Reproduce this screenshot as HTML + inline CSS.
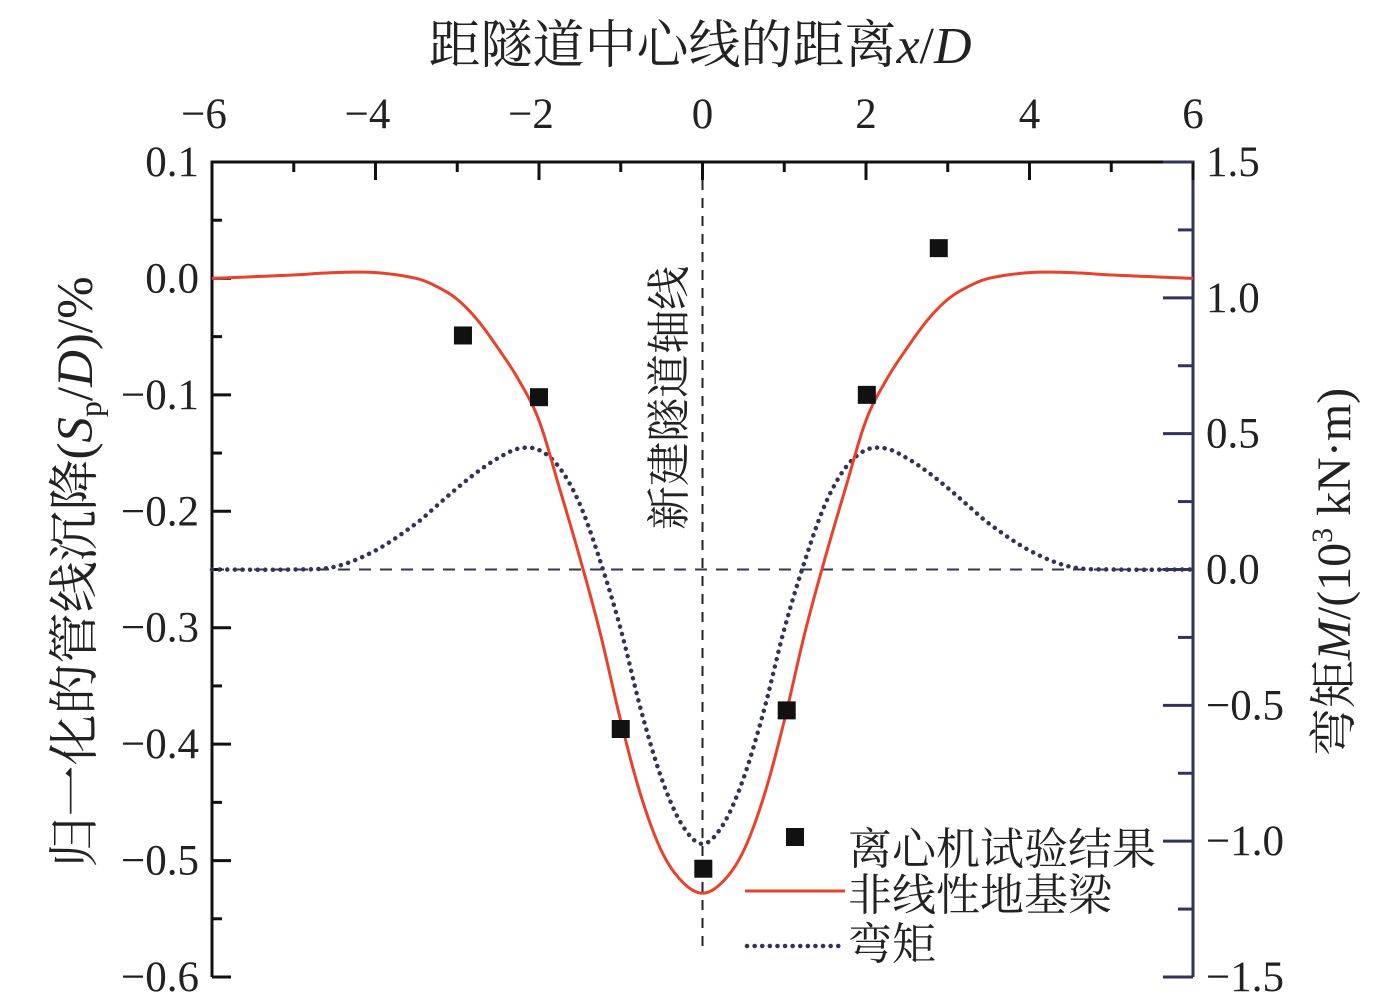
<!DOCTYPE html>
<html><head><meta charset="utf-8"><style>
html,body{margin:0;padding:0;background:#fff;}
svg{display:block;font-family:"Liberation Serif","Noto Serif CJK SC",serif;}
</style></head><body>
<svg id="chart" width="1374" height="1006" viewBox="0 0 1374 1006" xmlns="http://www.w3.org/2000/svg">
<text x="700" y="63" font-size="52" text-anchor="middle" fill="#222">距隧道中心线的距离<tspan font-style="italic">x</tspan>/<tspan font-style="italic">D</tspan></text>
<text transform="translate(92,572) rotate(-90)" font-size="51" text-anchor="middle" fill="#222">归一化的管线沉降(<tspan font-style="italic">S</tspan><tspan font-size="32" dy="9">p</tspan><tspan dy="-9">/</tspan><tspan font-style="italic">D</tspan>)/%</text>
<text transform="translate(1350,572) rotate(-90)" font-size="48" text-anchor="middle" fill="#222">弯矩<tspan font-style="italic">M</tspan>/(10<tspan font-size="30" dy="-18">3</tspan><tspan dy="18"> kN·m)</tspan></text>
<text transform="translate(684,398) rotate(-90)" font-size="44" text-anchor="middle" fill="#222">新建隧道轴线</text>
<g id="axes"></g>
<g id="marks"></g>
<g>
 <rect x="786" y="828" width="18" height="18" fill="#111"/>
 <text x="848" y="864" font-size="44" fill="#222">离心机试验结果</text>
 <line x1="745" y1="891" x2="845" y2="891" stroke="#e8412c" stroke-width="3"/>
 <text x="848" y="910" font-size="44" fill="#222">非线性地基梁</text>
 <line x1="747" y1="946" x2="842" y2="946" stroke="#33335a" stroke-width="4.5" stroke-dasharray="0.1,7.5" stroke-linecap="round"/>
 <text x="848" y="959" font-size="44" fill="#222">弯矩</text>
</g>
</svg>
<script>
const xGrid = [-6,-5,-4.5,-4,-3.5,-3.25,-3,-2.75,-2.5,-2.25,-2,-1.75,-1.5,-1.25,-1,-0.75,-0.5,-0.25,0,0.25,0.5,0.75,1,1.25,1.5,1.75,2,2.25,2.5,2.75,3,3.25,3.5,4,4.5,5,6];
const settlement = [0,0.003,0.005,0.005,0.0,-0.007,-0.018,-0.036,-0.06,-0.087,-0.122,-0.18,-0.24,-0.305,-0.38,-0.445,-0.492,-0.518,-0.528,-0.518,-0.492,-0.445,-0.38,-0.305,-0.24,-0.18,-0.122,-0.087,-0.06,-0.036,-0.018,-0.007,0.0,0.005,0.005,0.003,0];
const moment = [0,0,0.01,0.07,0.17,0.235,0.3,0.36,0.41,0.445,0.44,0.375,0.24,0.03,-0.22,-0.52,-0.77,-0.94,-1.01,-0.94,-0.77,-0.52,-0.22,0.03,0.24,0.375,0.44,0.445,0.41,0.36,0.3,0.235,0.17,0.07,0.01,0,0];
const expX = [-2.93,-2.0,-1.0,0.01,1.03,2.01,2.89];
const expS = [-0.049,-0.102,-0.387,-0.507,-0.371,-0.1,0.026];
const xTicks = [-6,-4,-2,0,2,4,6];
const leftTicks = [0.1,0.0,-0.1,-0.2,-0.3,-0.4,-0.5,-0.6];
const rightTicks = [1.5,1.0,0.5,0.0,-0.5,-1.0,-1.5];

const L=212,R=1193,T=162,B=977;
const sx=v=>L+(v+6)/12*(R-L);
const sy=v=>T+(0.1-v)/0.7*(B-T);
const sm=v=>T+(1.5-v)/3*(B-T);
const NS='http://www.w3.org/2000/svg';
const axes=document.getElementById('axes'), marks=document.getElementById('marks');
function mk(tag,attrs,parent){const e=document.createElementNS(NS,tag);for(const k in attrs)e.setAttribute(k,attrs[k]);parent.appendChild(e);return e;}
const fmt=v=>(v<0?'\u2212':'')+Math.abs(v).toFixed(1);

let e;
e=mk('line',{x1:L,y1:T,x2:R,y2:T,stroke:'#111','stroke-width':3},axes);


e=mk('line',{x1:L,y1:T-1.5,x2:L,y2:B,stroke:'#111','stroke-width':3},axes);


e=mk('line',{x1:R,y1:T-1.5,x2:R,y2:B,stroke:'#33335a','stroke-width':3},axes);


e=mk('line',{x1:sx(0),y1:T,x2:sx(0),y2:948,stroke:'#222','stroke-width':2,'stroke-dasharray':'10,8'},axes);


e=mk('line',{x1:L,y1:sm(0),x2:R,y2:sm(0),stroke:'#33335a','stroke-width':2,'stroke-dasharray':'12,9'},axes);



for(let v=-6;v<=6;v++){const maj=v%2===0;
 e=mk('line',{x1:sx(v),y1:T,x2:sx(v),y2:T+(maj?18:10),stroke:'#111','stroke-width':3},axes);
 
 }
xTicks.forEach(v=>{e=mk('text',{x:sx(v)+(v<0?-8:0),y:128,'font-size':43,'text-anchor':'middle',fill:'#222'},axes);e.textContent=(v<0?'\u2212':'')+Math.abs(v);
 
 });
for(let i=0;i<=14;i++){const v=0.1-i*0.05;const maj=i%2===0;
 e=mk('line',{x1:L,y1:sy(v),x2:L+(maj?19:10),y2:sy(v),stroke:'#111','stroke-width':3},axes);
 
 }
leftTicks.forEach(v=>{e=mk('text',{x:199,y:sy(v)+14,'font-size':43,'text-anchor':'end',fill:'#222'},axes);e.textContent=fmt(v);
 
 });
for(let i=0;i<=12;i++){const v=1.5-i*0.25;const maj=i%2===0;
 e=mk('line',{x1:R,y1:sm(v),x2:R-(maj?30:15),y2:sm(v),stroke:'#33335a','stroke-width':3},axes);
 
 }
rightTicks.forEach(v=>{e=mk('text',{x:1206,y:sm(v)+14,'font-size':43,'text-anchor':'start',fill:'#222'},axes);e.textContent=fmt(v);
 
 });

function curve(xs,ys,fx,fy){const n=xs.length,m=[];
 for(let i=0;i<n;i++){if(i===0)m.push((ys[1]-ys[0])/(xs[1]-xs[0]));else if(i===n-1)m.push((ys[n-1]-ys[n-2])/(xs[n-1]-xs[n-2]));else m.push((ys[i+1]-ys[i-1])/(xs[i+1]-xs[i-1]));}
 let d='';
 for(let i=0;i<n-1;i++){const h=xs[i+1]-xs[i];
  for(let k=0;k<=20;k++){if(i>0&&k===0)continue;const t=k/20,t2=t*t,t3=t2*t;
   const y=(2*t3-3*t2+1)*ys[i]+(t3-2*t2+t)*h*m[i]+(-2*t3+3*t2)*ys[i+1]+(t3-t2)*h*m[i+1];
   const x=xs[i]+t*h;d+=(d?'L':'M')+fx(x).toFixed(2)+','+fy(y).toFixed(2);}}
 return d;}
e=mk('path',{d:curve(xGrid,moment,sx,sm),fill:'none',stroke:'#33335a','stroke-width':4.5,'stroke-dasharray':'0.1,7.5','stroke-linecap':'round'},marks);


e=mk('path',{d:curve(xGrid,settlement,sx,sy),fill:'none',stroke:'#e8412c','stroke-width':3},marks);


expX.forEach((x,i)=>{e=mk('rect',{x:sx(x)-9,y:sy(expS[i])-9,width:18,height:18,fill:'#111'},marks);
 
 });
</script>
</body></html>
